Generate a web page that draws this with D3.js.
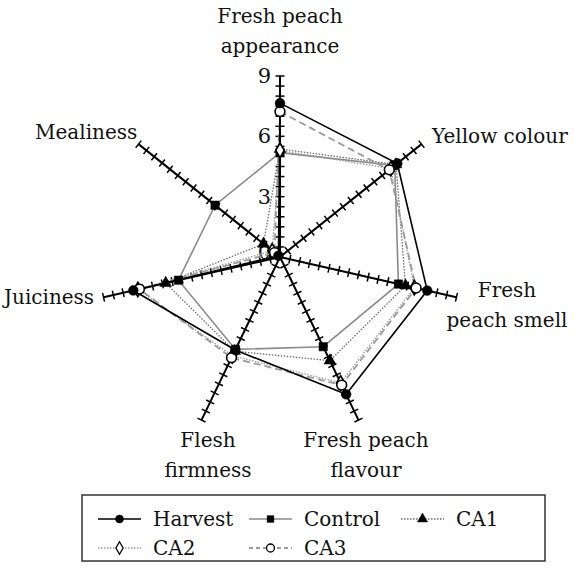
<!DOCTYPE html>
<html>
<head>
<meta charset="utf-8">
<script src="https://cdn.jsdelivr.net/npm/d3@7"></script>
<style>
  body { margin: 0; background: #fff; }
  svg text { font-family: "DejaVu Serif"; }
</style>
</head>
<body>
<svg id="chart" width="574" height="568"></svg>
<script>
// sensory attributes, clockwise from the top
const categories = ["Fresh peach appearance", "Yellow colour", "Fresh peach smell",
    "Fresh peach flavour", "Flesh firmness", "Juiciness", "Mealiness"];
const seriesNames = ["Harvest", "Control", "CA1", "CA2", "CA3"];
const harvest = [7.65, 7.46, 7.51, 7.58, 5.13, 7.48, 0.1];
const control = [5.19, 7.3, 6.04, 4.95, 5.1, 5.18, 4.13];
const ca1 = [5.37, 7.38, 6.4, 5.72, 5.2, 5.83, 1.05];
const ca2 = [5.3, 7.05, 6.85, 6.95, 5.45, 7.25, 0.5];
const ca3 = [7.23, 6.95, 6.94, 7.07, 5.56, 7.17, 0.35];
const scaleTicks = [0, 3, 6, 9];

const svg = d3.select("#chart");
const cx = 280, cy = 257;

const r = d3.scaleLinear().domain([0, 9]).range([0, 181]);
const angle = d3.scaleLinear().domain([0, categories.length]).range([0, 2 * Math.PI]);

function pt(i, v) {
    const a = angle(i);
    return [cx + r(v) * Math.sin(a), cy - r(v) * Math.cos(a)];
}

const styles = {
    Harvest: {stroke: "#000", dash: null, width: 1.6, marker: "circle", fill: "#000"},
    Control: {stroke: "#8a8a8a", dash: null, width: 1.6, marker: "square", fill: "#000"},
    CA1: {stroke: "#6e6e6e", dash: "1.5,1.5", width: 1.3, marker: "triangle", fill: "#000"},
    CA2: {stroke: "#9a9a9a", dash: "1.5,1.5", width: 1.3, marker: "diamond", fill: "#fff"},
    CA3: {stroke: "#9a9a9a", dash: "7,4", width: 1.8, marker: "circle", fill: "#fff"}
};
const symbolType = {circle: d3.symbolCircle, square: d3.symbolSquare, triangle: d3.symbolTriangle, diamond: d3.symbolDiamond};

// axes
const axes = svg.append("g");
categories.forEach(function (c, i) {
    const a = angle(i);
    const g = axes.append("g")
        .attr("transform", "translate(" + cx + "," + cy + ") rotate(" + (a * 180 / Math.PI) + ")");
    g.append("line")
        .attr("x1", 0).attr("y1", 0)
        .attr("x2", 0).attr("y2", -r(9))
        .attr("stroke", "#000").attr("stroke-width", 2);
    g.selectAll("line.tick")
        .data(d3.range(0.5, 9.01, 0.5))
        .enter().append("line")
        .attr("class", "tick")
        .attr("x1", -4.5).attr("x2", 4.5)
        .attr("y1", d => -r(d)).attr("y2", d => -r(d))
        .attr("stroke", "#000").attr("stroke-width", 1.5);
});

// scale numbers on the top axis
svg.append("g").selectAll("text")
    .data(scaleTicks)
    .enter().append("text")
    .attr("x", 271)
    .attr("y", d => cy - r(d) + (d === 0 ? -5 : 0))
    .attr("text-anchor", "end")
    .attr("dominant-baseline", "central")
    .attr("font-size", 21)
    .attr("fill", "#111")
    .text(d => d);

// series polygons, drawn back to front
const data = {Harvest: harvest, Control: control, CA1: ca1, CA2: ca2, CA3: ca3};
const drawOrder = ["Control", "CA1", "CA2", "CA3", "Harvest"];
const line = d3.line().curve(d3.curveLinearClosed);

drawOrder.forEach(function (name) {
    const st = styles[name];
    const pts = data[name].map((v, i) => pt(i, v));
    svg.append("path")
        .attr("d", line(pts))
        .attr("fill", "none")
        .attr("stroke", st.stroke)
        .attr("stroke-width", st.width)
        .attr("stroke-dasharray", st.dash);
});
drawOrder.forEach(function (name) {
    const st = styles[name];
    const size = st.marker === "circle" ? 75 : (st.marker === "square" ? 70 : 60);
    svg.append("g").selectAll("path")
        .data(data[name].map((v, i) => pt(i, v)))
        .enter().append("path")
        .attr("transform", d => "translate(" + d[0] + "," + d[1] + ")")
        .attr("d", d3.symbol().type(symbolType[st.marker]).size(size))
        .attr("fill", st.fill)
        .attr("stroke", "#000")
        .attr("stroke-width", st.fill === "#fff" ? 1.6 : 0.5);
});

// category labels
const labels = [
    {lines: ["Fresh peach", "appearance"], x: 280, y: 23, anchor: "middle"},
    {lines: ["Yellow colour"], x: 432, y: 143, anchor: "start"},
    {lines: ["Fresh", "peach smell"], x: 507, y: 297, anchor: "middle"},
    {lines: ["Fresh peach", "flavour"], x: 366, y: 447, anchor: "middle"},
    {lines: ["Flesh", "firmness"], x: 208, y: 447, anchor: "middle"},
    {lines: ["Juiciness"], x: 4, y: 304, anchor: "start"},
    {lines: ["Mealiness"], x: 35, y: 139, anchor: "start"}
];
labels.forEach(function (l) {
    const t = svg.append("text")
        .attr("x", l.x).attr("y", l.y)
        .attr("text-anchor", l.anchor)
        .attr("fill", "#111")
        .attr("font-size", 20);
    l.lines.forEach(function (s, k) {
        t.append("tspan").attr("x", l.x).attr("dy", k === 0 ? 0 : 30).text(s);
    });
});

// legend
const legend = svg.append("g");
legend.append("rect")
    .attr("x", 82).attr("y", 495)
    .attr("width", 463).attr("height", 66)
    .attr("fill", "none").attr("stroke", "#333").attr("stroke-width", 1.5);

const legendPos = [
    {name: "Harvest", x: 98, y: 519},
    {name: "Control", x: 249, y: 519},
    {name: "CA1", x: 401, y: 519},
    {name: "CA2", x: 98, y: 548},
    {name: "CA3", x: 249, y: 548}
];
legendPos.forEach(function (p) {
    const st = styles[p.name];
    const g = legend.append("g").attr("transform", "translate(" + p.x + "," + p.y + ")");
    g.append("line")
        .attr("x1", 0).attr("x2", 43)
        .attr("stroke", st.stroke)
        .attr("stroke-width", st.width)
        .attr("stroke-dasharray", st.dash === "7,4" ? "4,3" : st.dash);
    g.append("path")
        .attr("transform", "translate(21.5,0)")
        .attr("d", d3.symbol().type(symbolType[st.marker]).size(st.marker === "circle" ? 50 : 45))
        .attr("fill", st.fill)
        .attr("stroke", "#000")
        .attr("stroke-width", st.fill === "#fff" ? 1.3 : 0.5);
    g.append("text")
        .attr("x", 55).attr("y", 0)
        .attr("dominant-baseline", "central")
        .attr("fill", "#111")
        .attr("font-size", 20)
        .text(p.name);
});
</script>
</body>
</html>
